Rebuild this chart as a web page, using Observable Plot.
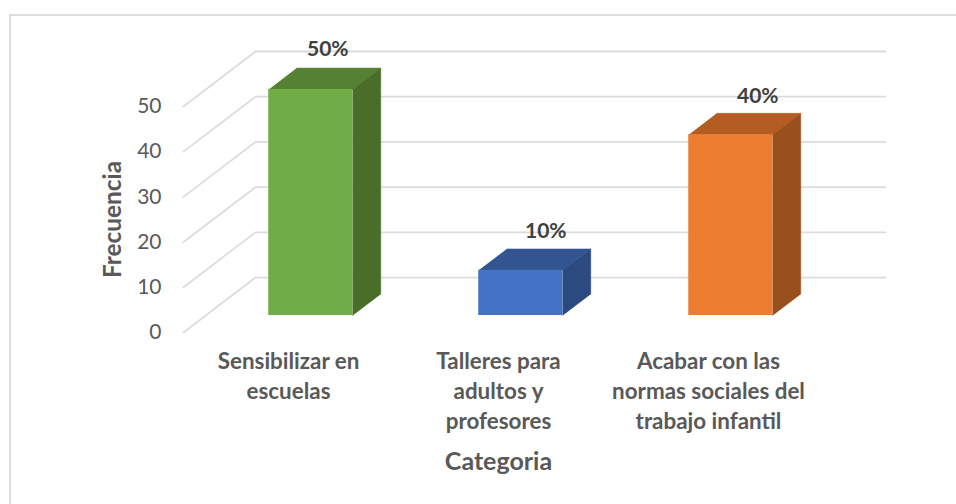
<!DOCTYPE html>
<html lang="es">
<head>
<meta charset="utf-8">
<script src="https://cdn.jsdelivr.net/npm/d3@7"></script>
<script src="https://cdn.jsdelivr.net/npm/@observablehq/plot@0.6"></script>
<style>
  html, body { margin: 0; padding: 0; background: #fff; overflow: hidden; }
  #chart { position: relative; width: 956px; height: 504px; }
  #chart::before { content: ""; position: absolute; left: 9px; top: 14px; right: 0; bottom: 0;
    border-top: 2px solid #dcdcdc; border-left: 2px solid #dcdcdc; }
  #chart svg { position: absolute; left: 0; top: 0; background: transparent; }
</style>
</head>
<body>
<div id="chart"></div>
<script>
const categories = ["Sensibilizar en\nescuelas", "Talleres para\nadultos y\nprofesores", "Acabar con las\nnormas sociales del\ntrabajo infantil"];
const values = [50, 10, 40];
const percentLabels = ["50%", "10%", "40%"];
const yTicks = [0, 10, 20, 30, 40, 50];
const frontColors = ["#70ad47", "#4472c4", "#ed7d31"];
const topColors = ["#568034", "#325591", "#b35d22"];
const sideColors = ["#4a6e2a", "#2a4a80", "#98501d"];

// Oblique projection of the chart's 3D box: full floor depth in data units.
const depthX = 72 / 210, depthY = 12.15;
const barHalf = 0.2, depthNear = 0.309, depthFar = 0.698;
const px = (i, d) => i + d * depthX;
const py = (v, d) => v + d * depthY;

const rows = values.map((v, i) => ({i, v}));
const poly = (pts) => pts.map(([x, y]) => ({x, y}));

const grid = yTicks.map((v) => poly([[-0.5, py(v, 0)], [px(-0.5, 1), py(v, 1)], [px(2.5, 1), py(v, 1)]]));
const topFace = ({i, v}) => poly([
  [px(i - barHalf, depthNear), py(v, depthNear)], [px(i + barHalf, depthNear), py(v, depthNear)],
  [px(i + barHalf, depthFar), py(v, depthFar)], [px(i - barHalf, depthFar), py(v, depthFar)]]);
const sideFace = ({i, v}) => poly([
  [px(i + barHalf, depthNear), py(0, depthNear)], [px(i + barHalf, depthNear), py(v, depthNear)],
  [px(i + barHalf, depthFar), py(v, depthFar)], [px(i + barHalf, depthFar), py(0, depthFar)]]);

const font = "Lato, Carlito, 'Open Sans', sans-serif";
const labelNudge = [{dx: 3, dy: -19}, {dx: 11, dy: -18}, {dx: 13, dy: -17}];

const plot = Plot.plot({
  width: 956, height: 504,
  marginLeft: 183, marginRight: 71, marginTop: 51, marginBottom: 172,
  style: {fontFamily: font, background: "transparent"},
  x: {domain: [-0.5, 2.5 + depthX], axis: null},
  y: {domain: [0, 50 + depthY]},
  marks: [
    ...grid.map((g) => Plot.line(g, {x: "x", y: "y", stroke: "#dcdcdc", strokeWidth: 1.8, curve: "linear"})),
    ...rows.map((r) => Plot.line(topFace(r), {x: "x", y: "y", fill: topColors[r.i], stroke: topColors[r.i], strokeWidth: 0.5})),
    ...rows.map((r) => Plot.line(sideFace(r), {x: "x", y: "y", fill: sideColors[r.i], stroke: sideColors[r.i], strokeWidth: 0.5})),
    Plot.rect(rows, {
      x1: (d) => px(d.i - barHalf, depthNear), x2: (d) => px(d.i + barHalf, depthNear),
      y1: () => py(0, depthNear), y2: (d) => py(d.v, depthNear),
      fill: (d) => frontColors[d.i]
    }),
    Plot.axisY({ticks: yTicks, tickSize: 0, tickPadding: 22, label: null, fontSize: 21, color: "#595959"}),
    ...rows.map((r) => Plot.text([r], {
      x: (d) => px(d.i, (depthNear + depthFar) / 2), y: (d) => py(d.v, depthFar),
      text: (d) => percentLabels[d.i],
      dx: labelNudge[r.i].dx, dy: labelNudge[r.i].dy,
      fontSize: 21, fontWeight: 700, fill: "#404040"
    })),
    Plot.text(categories, {
      x: (d, i) => i, y: () => 0, text: (d) => d,
      dy: 15, lineAnchor: "top", lineHeight: 1.34,
      fontSize: 22.4, fontWeight: 700, fill: "#595959"
    }),
    Plot.text(["Categoria"], {x: () => 1, y: () => 0, text: (d) => d, dy: 129, fontSize: 25, fontWeight: 700, fill: "#595959"}),
    Plot.text(["Frecuencia"], {x: () => -0.5, y: () => 25, text: (d) => d, dx: -70, rotate: -90, fontSize: 24.4, fontWeight: 700, fill: "#595959"})
  ]
});
document.getElementById("chart").appendChild(plot);
</script>
</body>
</html>
